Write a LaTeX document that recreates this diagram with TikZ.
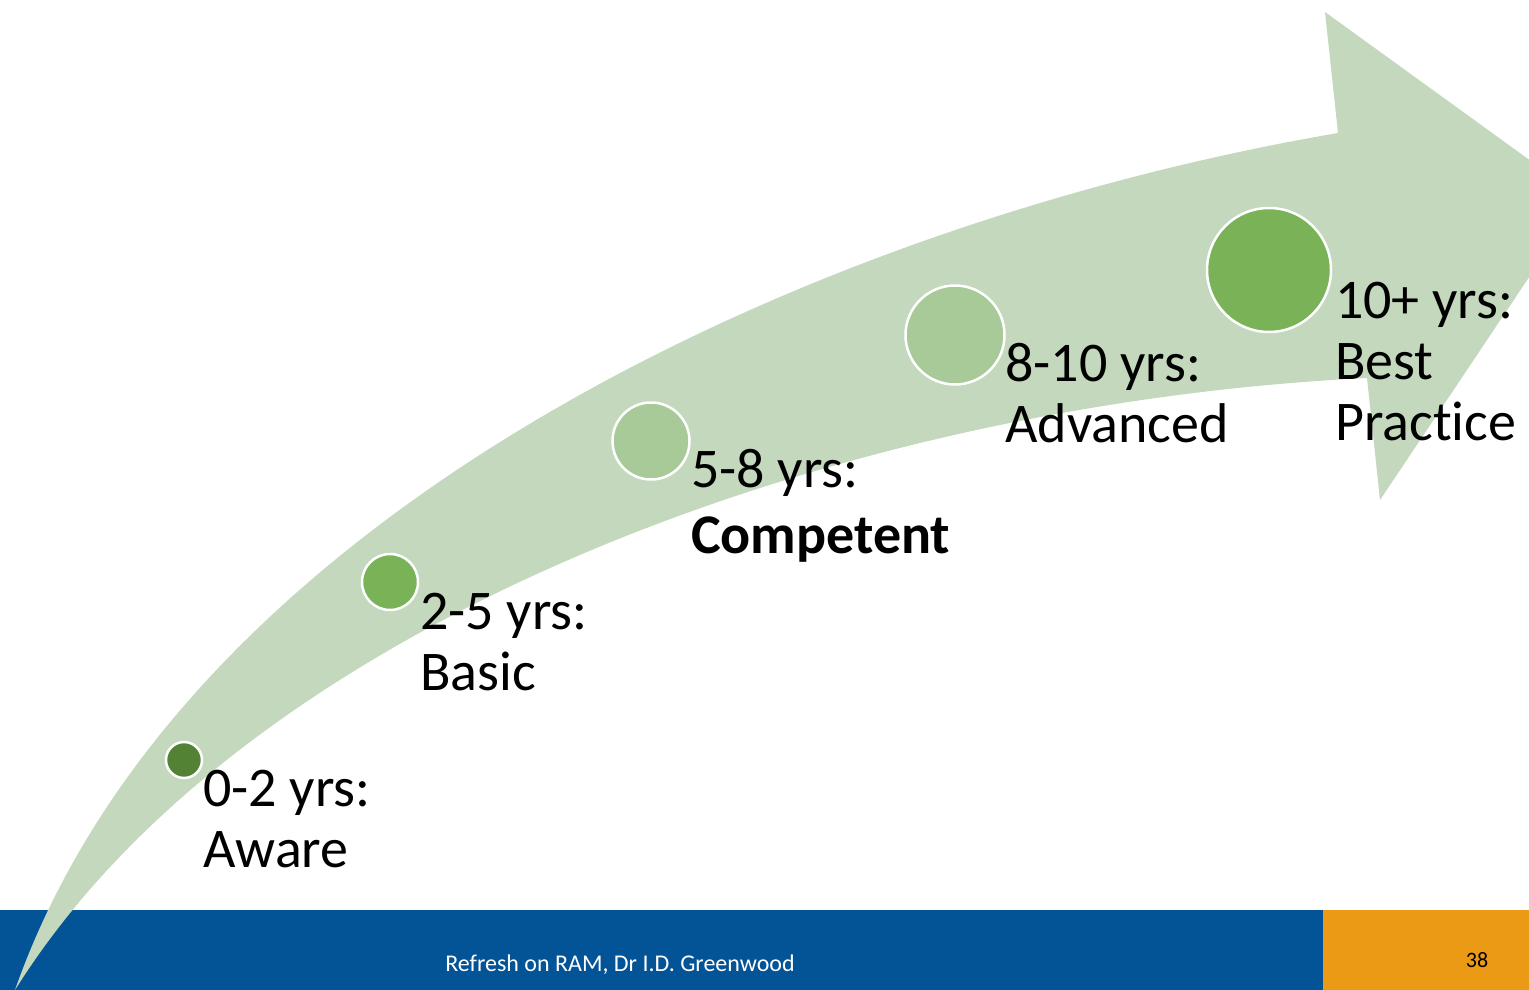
\documentclass[tikz,border=0pt]{standalone}
\usepackage{fontspec}
\setmainfont{Carlito}[Ligatures=CommonOff]
\definecolor{bandgreen}{RGB}{195,216,188}
\definecolor{footblue}{RGB}{3,83,151}
\definecolor{footorange}{RGB}{235,154,22}
\definecolor{dotdark}{RGB}{84,130,53}
\definecolor{dotmid}{RGB}{121,178,87}
\definecolor{dotlight}{RGB}{168,201,152}
\tikzset{
  dot/.style={circle, draw=white, line width=2.5pt, inner sep=0pt},
  stage/.style={anchor=base west, align=left, inner sep=0pt, font=\fontsize{56}{61}\selectfont, text=black},
}
\begin{document}
\begin{tikzpicture}[x=1pt,y=-1pt]
\useasboundingbox (0,0) rectangle (1529,990);
\clip (0,0) rectangle (1529,990);
% footer bands
\fill[footblue] (0,910) rectangle (1323,990);
\fill[footorange] (1323,910) rectangle (1529,990);
% curved arrow
\fill[bandgreen] (15,990) .. controls (180,520) and (800,225) .. (1338,133)
  -- (1325,12) -- (1582,198) -- (1380,500) -- (1367,378)
  .. controls (820,405) and (240,630) .. (15,990) -- cycle;
% dots
\node[dot, fill=dotdark, minimum size=36pt] (d1) at (184,760) {};
\node[dot, fill=dotmid, minimum size=56pt] (d2) at (390,582) {};
\node[dot, fill=dotlight, minimum size=77pt] (d3) at (651,441) {};
\node[dot, fill=dotlight, minimum size=99pt] (d4) at (955,335) {};
\node[dot, fill=dotmid, minimum size=124pt] (d5) at (1269,270) {};
% labels (anchored at the baseline of the last line)
\node[stage] (l1) at (203,867) {0-2 yrs:\\Aware};
\node[stage] (l2) at (420,690) {2-5 yrs:\\Basic};
\node[stage] (l3) at (691,553) {5-8 yrs:\\[5pt]\textbf{Competent}};
\node[stage] (l4) at (1005,442) {8-10 yrs:\\Advanced};
\node[stage] (l5) at (1335,440) {10+ yrs:\\Best\\Practice};
% footer text
\node[anchor=base, inner sep=0pt, text=white, font=\fontsize{24}{28}\selectfont] (ft) at (620,971) {Refresh on RAM, Dr I.D. Greenwood};
\node[anchor=base, inner sep=0pt, text=black, font=\fontsize{22}{26}\selectfont] (pg) at (1477,967) {38};
\end{tikzpicture}
\end{document}
